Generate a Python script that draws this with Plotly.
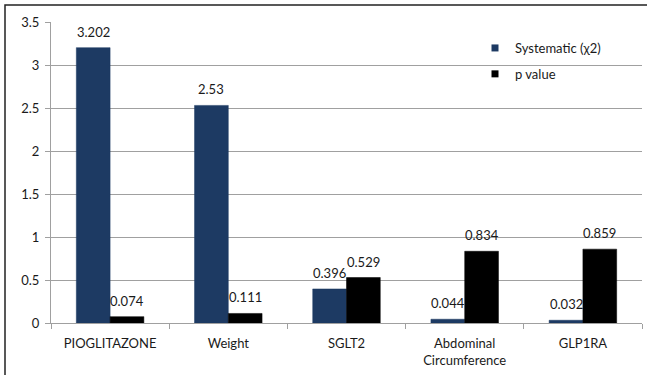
import plotly.graph_objects as go

# Chart data
categories = ["PIOGLITAZONE", "Weight", "SGLT2", "Abdominal<br>Circumference", "GLP1RA"]
systematic_chi2 = [3.202, 2.53, 0.396, 0.044, 0.032]
p_values = [0.074, 0.111, 0.529, 0.834, 0.859]
y_ticks = [0, 0.5, 1, 1.5, 2, 2.5, 3, 3.5]

series = [
    ("Systematic (χ2)", systematic_chi2, "#1D3A63"),
    ("p value", p_values, "#000000"),
]

W, H = 647, 375
L, R, T, B = 51, 5, 22, 52
FONT = "Lato, Open Sans, sans-serif"
TXT = "#1a1a1a"

pw = W - L - R
ph = H - T - B
cat_px = pw / len(categories)
bar_px = cat_px / 3.5          # two bars plus a 1.5-bar gap per category

fig = go.Figure()
for i, (name, vals, color) in enumerate(series):
    fig.add_trace(go.Bar(
        x=categories, y=vals, name=name, showlegend=False,
        marker=dict(color=color, line=dict(color=color, width=0.5)),
    ))
    # value labels above each bar
    shift = (i - 0.5) * bar_px
    for c, v in zip(categories, vals):
        fig.add_annotation(
            x=c, y=v, text=str(v), showarrow=False,
            xshift=shift, yshift=16, yanchor="middle",
            font=dict(size=13, family=FONT, color=TXT),
        )

# small square legend keys
for i, (name, vals, color) in enumerate(series):
    fig.add_trace(go.Scatter(
        x=[None], y=[None], mode="markers", name=name,
        marker=dict(symbol="square", size=7, color=color),
        legendgroup=name,
    ))

# outer frame around the chart
fig.add_shape(
    type="rect", xref="paper", yref="paper",
    x0=(5 - L) / pw, x1=(700 - L) / pw,
    y0=(H - B - 420) / ph, y1=(H - B - 5) / ph,
    line=dict(color="#222", width=1.5), fillcolor="rgba(0,0,0,0)", layer="below",
)

fig.update_layout(
    width=W, height=H,
    margin=dict(l=L, r=R, t=T, b=B),
    paper_bgcolor="white", plot_bgcolor="white",
    barmode="group", bargap=1.5 / 3.5, bargroupgap=0,
    font=dict(family=FONT, size=13, color=TXT),
    showlegend=True,
    legend=dict(
        x=(475 - L) / pw, y=(H - B - 33) / ph, xanchor="left", yanchor="top",
        bgcolor="rgba(0,0,0,0)", font=dict(size=13, family=FONT, color=TXT),
        traceorder="grouped", tracegroupgap=6,
    ),
    xaxis=dict(
        showline=True, linecolor="#a0a0a0", linewidth=1,
        ticks="outside", tickson="boundaries", ticklen=5, tickcolor="#a0a0a0",
        ticklabelstandoff=8,
        tickfont=dict(size=13, family=FONT, color=TXT),
        showgrid=False,
    ),
    yaxis=dict(
        range=[0, 3.5], tickvals=y_ticks,
        showline=True, linecolor="#a0a0a0", linewidth=1,
        ticks="outside", ticklen=5, tickcolor="#a0a0a0",
        ticklabelstandoff=3,
        showgrid=True, gridcolor="#a0a0a0", gridwidth=1,
        zeroline=False,
        tickfont=dict(size=13, family=FONT, color=TXT),
    ),
)

fig.write_html("out.html")
